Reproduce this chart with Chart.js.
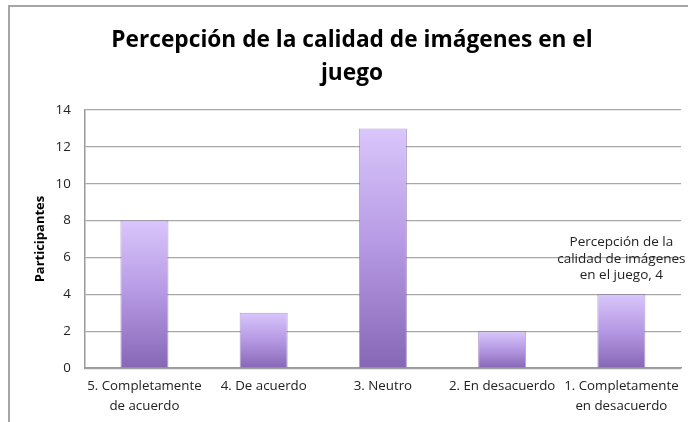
<!DOCTYPE html>
<html lang="es">
<head>
<meta charset="UTF-8">
<title>Percepción de la calidad de imágenes en el juego</title>
<script src="https://cdn.jsdelivr.net/npm/chart.js"></script>
<style>
  body { margin: 0; background: #fff; }
  #wrap { position: absolute; left: 8px; top: 5px; width: 680px; height: 417px;
          border-top: 2px solid #a6a6a6; border-left: 2px solid #a6a6a6; }
</style>
</head>
<body>
<div id="wrap"><canvas id="chart" width="680" height="417"></canvas></div>
<script>
// data
const categories = [['5. Completamente', 'de acuerdo'], '4. De acuerdo', '3. Neutro', '2. En desacuerdo', ['1. Completamente', 'en desacuerdo']];
const participantes = [8, 3, 13, 2, 4];
const titleLines = ['Percepción de la calidad de imágenes en el', 'juego'];
const labelLines = ['Percepción de la', 'calidad de imágenes', 'en el juego, 4'];
const labelIndex = 4;

const FONT = '"Open Sans", sans-serif';

function barFill(ctx) {
  const chart = ctx.chart;
  const y = chart.scales.y;
  if (!y || ctx.dataIndex === undefined) return '#a98ad8';
  const top = y.getPixelForValue(ctx.raw);
  const bottom = y.getPixelForValue(0);
  if (!isFinite(top) || !isFinite(bottom) || top === bottom) return '#a98ad8';
  const g = chart.ctx.createLinearGradient(0, top, 0, bottom);
  g.addColorStop(0, '#d9c6fb');
  g.addColorStop(0.5, '#b598e3');
  g.addColorStop(1, '#8667b6');
  return g;
}

const titlePlugin = {
  id: 'titleText',
  afterDraw(chart) {
    const c = chart.ctx;
    c.save();
    c.fillStyle = '#000';
    c.font = 'bold 22.7px ' + FONT;
    c.textAlign = 'center';
    c.textBaseline = 'alphabetic';
    c.fillText(titleLines[0], 342, 40);
    c.fillText(titleLines[1], 342, 73);
    c.restore();
  }
};

const labelPlugin = {
  id: 'barLabel',
  afterDatasetsDraw(chart) {
    const bar = chart.getDatasetMeta(0).data[labelIndex];
    const c = chart.ctx;
    c.save();
    c.fillStyle = '#222';
    c.font = '13.5px ' + FONT;
    c.textAlign = 'center';
    c.textBaseline = 'middle';
    const n = labelLines.length;
    labelLines.forEach((t, i) => {
      c.fillText(t, bar.x, bar.y - 19 - (n - 1 - i) * 16.5);
    });
    c.restore();
  }
};

new Chart(document.getElementById('chart'), {
  type: 'bar',
  data: {
    labels: categories,
    datasets: [{
      label: 'Percepción de la calidad de imágenes en el juego',
      data: participantes,
      backgroundColor: barFill,
      borderColor: 'rgba(110,80,160,0.55)',
      borderWidth: 1,
      categoryPercentage: 1,
      barPercentage: 0.403
    }]
  },
  options: {
    responsive: false,
    animation: false,
    layout: { padding: { top: 103, right: 9, left: 2, bottom: 0 } },
    plugins: { legend: { display: false }, title: { display: false }, tooltip: { enabled: false } },
    scales: {
      x: {
        grid: { display: false, drawTicks: false },
        border: { color: '#9a9a9a', width: 1.5 },
        ticks: { color: '#222', font: { family: FONT, size: 13.3, lineHeight: 1.5 }, maxRotation: 0, autoSkip: false, padding: 8 }
      },
      y: {
        min: 0, max: 14,
        ticks: { stepSize: 2, color: '#222', font: { family: FONT, size: 13.3 }, padding: 14 },
        grid: { color: '#a8a8a8', lineWidth: 1.2, drawTicks: false },
        border: { color: '#9a9a9a', width: 1.5 },
        title: { display: true, text: 'Participantes', color: '#000', font: { family: FONT, size: 13, weight: 'bold' }, padding: { top: 20, bottom: -6 } }
      }
    }
  },
  plugins: [titlePlugin, labelPlugin]
});
</script>
</body>
</html>
